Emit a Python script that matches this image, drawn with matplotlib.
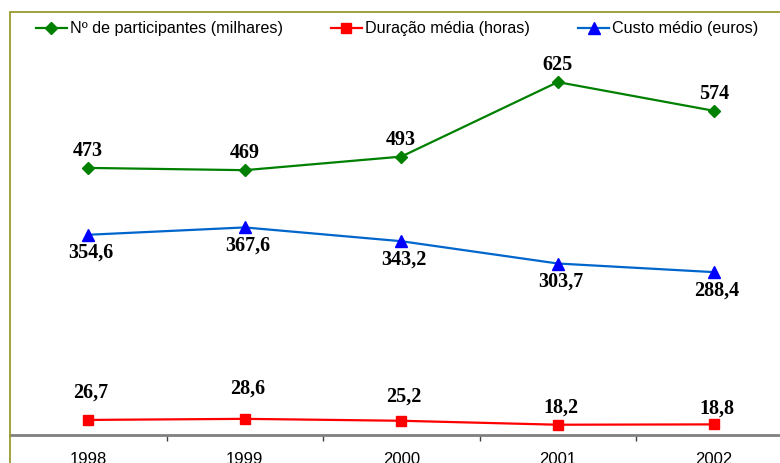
import matplotlib.pyplot as plt
from matplotlib.patches import Rectangle

anos = ['1998', '1999', '2000', '2001', '2002']
participantes = [473, 469, 493, 625, 574]
duracao = [26.7, 28.6, 25.2, 18.2, 18.8]
custo = [354.6, 367.6, 343.2, 303.7, 288.4]

# distancia (px) entre marcador e rotulo da duracao
dy_duracao = [27, 30, 24, 17, 16]

W, H = 780, 463
fig = plt.figure(figsize=(W / 100, H / 100), dpi=100)
plt.rcParams['font.family'] = ['Liberation Sans', 'DejaVu Sans']

# moldura oliva (area do grafico, recortada a direita e em baixo)
fig.patches.append(Rectangle((10 / W, -0.1), 1.2, (H - 11.5) / H + 0.1,
                             transform=fig.transFigure, fill=False,
                             edgecolor='#9a9a30', lw=1.3))

ax = fig.add_axes([10 / W, (H - 435) / H, 782.5 / W, (435 - 11.5) / H])
ax.set_facecolor('none')
x = list(range(len(anos)))

ax.plot(x, participantes, color='#008000', lw=1.6, marker='D', ms=6.5,
        label='Nº de participantes (milhares)')
ax.plot(x, duracao, color='#ff0000', lw=1.6, marker='s', ms=7.5,
        label='Duração média (horas)')
ax.plot(x, custo, color='#0066cc', lw=1.6, marker='^', ms=9,
        markerfacecolor='#0000ff', markeredgecolor='#0000ff',
        label='Custo médio (euros)')

ax.set_xlim(-0.5, 4.5)
ax.set_ylim(0, 750)

lab = dict(fontsize=14.5, fontweight='bold', family='Liberation Serif',
           ha='center', va='center', textcoords='offset points')
for i in x:
    ax.annotate(f'{participantes[i]}', (i, participantes[i]),
                xytext=(0, 17 * 0.72), **lab)
    ax.annotate(f'{custo[i]:.1f}'.replace('.', ','), (i, custo[i]),
                xytext=(2, -18 * 0.72), **lab)
    ax.annotate(f'{duracao[i]:.1f}'.replace('.', ','), (i, duracao[i]),
                xytext=(2, dy_duracao[i] * 0.72), **lab)

for s in ['top', 'right', 'left']:
    ax.spines[s].set_visible(False)
ax.spines['bottom'].set_color('#808080')
ax.spines['bottom'].set_linewidth(2)
ax.set_yticks([])

ax.set_xticks([0.5, 1.5, 2.5, 3.5])
ax.set_xticklabels([])
ax.tick_params(axis='x', which='major', length=4, width=1, color='#404040')
ax.set_xticks(x, minor=True)
ax.set_xticklabels(anos, minor=True, fontsize=12)
ax.tick_params(axis='x', which='minor', length=0, pad=12)

fig.legend(loc='center left', bbox_to_anchor=(36 / W, 1 - 29 / H),
           ncol=3, frameon=False, fontsize=11.6, borderpad=0, borderaxespad=0,
           handlelength=1.9, handletextpad=0.2, columnspacing=3.0)

fig.savefig('out.png', dpi=100)
